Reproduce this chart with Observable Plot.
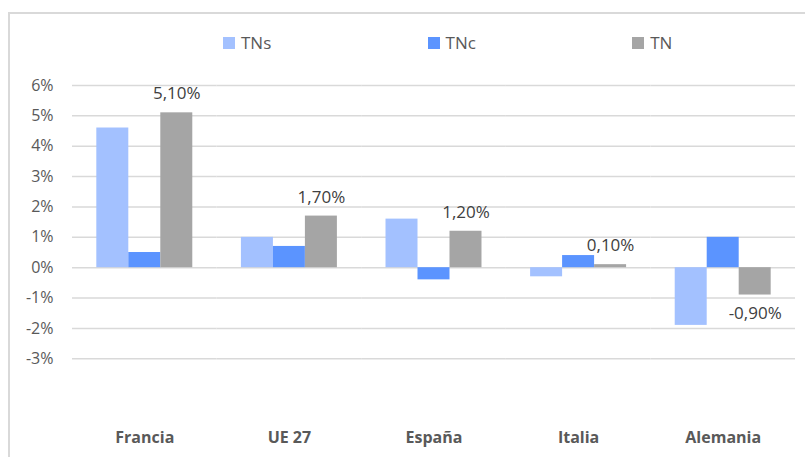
<!DOCTYPE html>
<html>
<head>
<meta charset="utf-8">
<script src="https://cdn.jsdelivr.net/npm/d3@7"></script>
<script src="https://cdn.jsdelivr.net/npm/@observablehq/plot@0.6"></script>
<style>
  html, body { margin: 0; padding: 0; background: #fff; overflow: hidden; }
  #wrap { position: relative; width: 805px; height: 457px; overflow: hidden; font-family: 'Open Sans', sans-serif; }
  #frame { position: absolute; left: 8px; top: 12px; width: 900px; height: 600px; border: 2px solid #d9d9d9; box-sizing: border-box; }
  #chart { position: absolute; left: 0; top: 0; }
  .leg { position: absolute; top: 31px; height: 22px; display: flex; align-items: center; font-size: 17px; color: #595959; }
  .leg .sw { width: 12px; height: 12px; margin-right: 6px; margin-top: 2px; }
</style>
</head>
<body>
<div id="wrap">
  <div id="frame"></div>
  <div id="chart"></div>
</div>
<script>
const categories = ["Francia", "UE 27", "España", "Italia", "Alemania"];
const series = ["TNs", "TNc", "TN"];
const tnsValues = [4.6, 1.0, 1.6, -0.3, -1.9];
const tncValues = [0.5, 0.7, -0.4, 0.4, 1.0];
const tnValues = [5.1, 1.7, 1.2, 0.1, -0.9];
const yTicks = [-3, -2, -1, 0, 1, 2, 3, 4, 5, 6];
const colors = ["#a3c1ff", "#5b94ff", "#a5a5a5"];

const seriesValues = [tnsValues, tncValues, tnValues];
const data = categories.flatMap((cat, i) =>
  series.map((s, j) => ({ cat, s, v: seriesValues[j][i] }))
);
const labelled = data.filter(d => d.s === "TN");
const fmt = d => d.v.toFixed(2).replace(".", ",") + "%";

const chart = Plot.plot({
  width: 805,
  height: 457,
  marginTop: 85,
  marginBottom: 98.7,
  marginLeft: 72,
  marginRight: 10,
  style: { fontFamily: "'Open Sans', sans-serif", background: "transparent", overflow: "visible" },
  fx: { domain: categories, padding: 0, round: false, label: null },
  x: { domain: series, paddingInner: 0, paddingOuter: 0.76, round: false, axis: null },
  y: { domain: [-3, 6], axis: null },
  color: { domain: series, range: colors },
  marks: [
    Plot.ruleY(yTicks, { stroke: "#d9d9d9", strokeWidth: 1.5 }),
    Plot.barY(data, { fx: "cat", x: "s", y: "v", fill: "s" }),
    Plot.text(labelled.filter(d => d.v >= 0), {
      fx: "cat", x: "s", y: "v", text: fmt, dy: -19,
      fontSize: 17, fill: "#404040"
    }),
    Plot.text(labelled.filter(d => d.v < 0), {
      fx: "cat", x: "s", y: "v", text: fmt, dy: 19,
      fontSize: 17, fill: "#404040"
    }),
    Plot.axisY(yTicks, {
      tickSize: 0, tickPadding: 19, tickFormat: d => d + "%",
      fontSize: 16, fill: "#595959", label: null
    }),
    Plot.axisFx({
      anchor: "bottom", tickSize: 0, tickPadding: 73,
      fontSize: 16, fontWeight: "bold", fill: "#595959", label: null
    })
  ]
});
document.getElementById("chart").appendChild(chart);

const wrap = document.getElementById("wrap");
series.forEach((s, i) => {
  const item = document.createElement("div");
  item.className = "leg";
  item.style.left = (223 + i * 204.6) + "px";
  const sw = document.createElement("span");
  sw.className = "sw";
  sw.style.background = colors[i];
  const tx = document.createElement("span");
  tx.textContent = s;
  item.appendChild(sw);
  item.appendChild(tx);
  wrap.appendChild(item);
});
</script>
</body>
</html>
